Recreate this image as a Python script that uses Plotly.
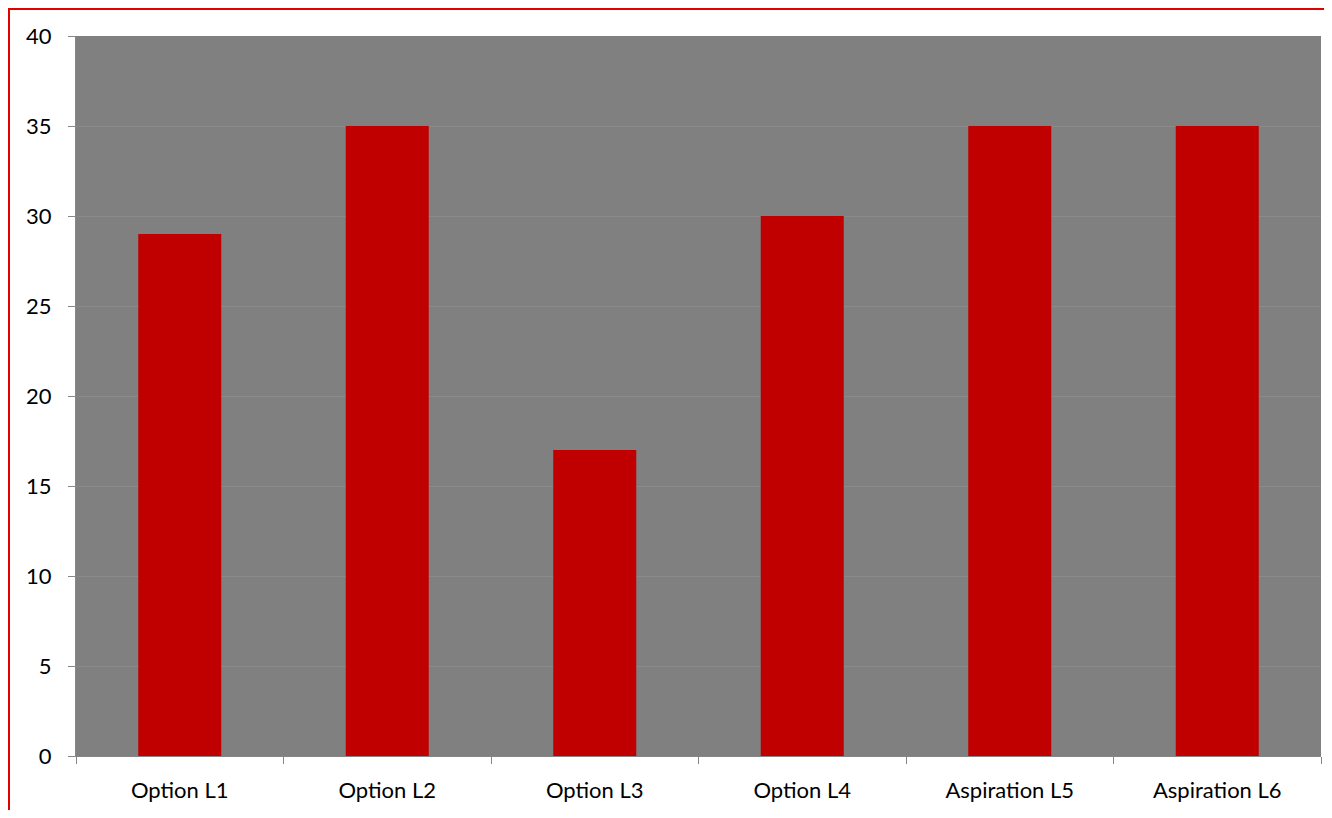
import plotly.graph_objects as go

categories = ["Option L1", "Option L2", "Option L3", "Option L4", "Aspiration L5", "Aspiration L6"]
values = [29, 35, 17, 30, 35, 35]
y_ticks = [0, 5, 10, 15, 20, 25, 30, 35, 40]

OFF = 8  # page body margin
W, H = 1332 - 2 * OFF, 818 - 2 * OFF
L, T = 76 - OFF, 36 - OFF
R = W - (1321 - OFF)
B = H - (756 - OFF)
pw, ph = W - L - R, H - T - B

fig = go.Figure(go.Bar(x=categories, y=values, marker=dict(color="#C00000", line=dict(width=0)), width=0.4))

fig.update_layout(
    width=W, height=H,
    margin=dict(l=L, r=R, t=T, b=B),
    paper_bgcolor="white",
    plot_bgcolor="#808080",
    font=dict(family="Lato, Open Sans, sans-serif", size=22, color="black"),
    showlegend=False,
)
fig.update_xaxes(
    showgrid=False, showline=True, linecolor="#868686", linewidth=1,
    ticks="outside", tickson="boundaries", ticklen=7, tickcolor="#868686",
    ticklabelstandoff=15, tickfont=dict(size=22),
)
fig.update_yaxes(
    range=[0, 40], tickvals=y_ticks, showgrid=True, gridcolor="#8a8a8a", gridwidth=1,
    showline=True, linecolor="#868686", linewidth=1,
    ticks="outside", ticklen=7, tickcolor="#868686",
    ticklabelstandoff=12, zeroline=False, tickfont=dict(size=22),
)
# outer chart border (red): only top and left edges are visible, drawn as thin filled strips
red = "#E00000"
fig.add_shape(type="rect", xref="paper", yref="paper",
              x0=(0 - L) / pw, x1=(W - L) / pw, y0=1 + (T - 2) / ph, y1=1 + T / ph,
              line=dict(width=0), fillcolor=red, layer="above")
fig.add_shape(type="rect", xref="paper", yref="paper",
              x0=(0 - L) / pw, x1=(2 - L) / pw, y0=-B / ph, y1=1 + T / ph,
              line=dict(width=0), fillcolor=red, layer="above")
fig.write_html("out.html")
